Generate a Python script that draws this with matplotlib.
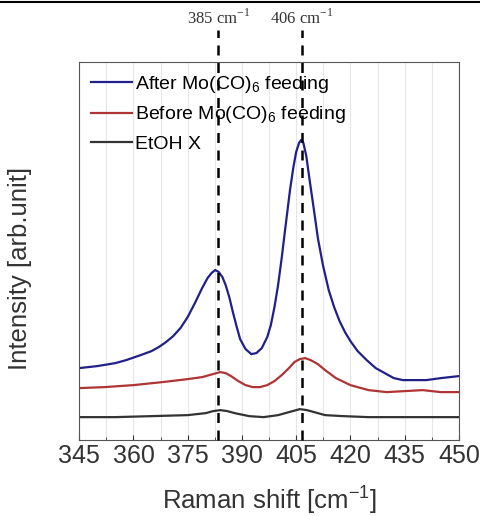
import numpy as np
import matplotlib
matplotlib.use("Agg")
import matplotlib.pyplot as plt
from matplotlib.ticker import MultipleLocator

# values (y in arbitrary units, baseline = axis bottom)
shift_after = [345, 350, 355, 358, 362, 365, 367, 369, 371, 373, 375, 377, 379, 380.5, 381.6,
               382.6, 383.6, 384.6, 385.5, 386.5, 387.5, 388.5, 389.5, 391, 392.6, 394, 395.5,
               397, 398, 399, 400, 401, 402, 403.3, 404.2, 405, 405.8, 406.4, 407, 407.8,
               408.8, 410, 411, 412.4, 414, 415.5, 417, 418.5, 420, 422, 424.5, 427, 430,
               432, 434.5, 438, 441, 445, 450]
after = [72, 74, 77, 80, 85, 89, 93, 98, 104, 112, 123, 137, 152, 162, 167,
         170, 168, 163, 155, 143, 128, 114, 101, 91, 86, 87, 92,
         103, 115, 133, 155, 182, 212, 250, 272, 288, 297, 300, 297, 284,
         258, 228, 202, 175, 150, 133, 119, 108, 99, 89, 80, 72, 66,
         62, 60, 60, 60, 62, 64]

shift_before = [345, 352, 360, 368, 375, 379, 382, 384, 385.5, 387, 389, 391, 393, 395,
                397, 399, 401, 403, 404.5, 406, 407.5, 409, 411, 413, 416, 420, 425, 430,
                435, 440, 445, 450]
before = [52, 53, 55, 58, 61, 63, 66, 68, 67, 64, 59, 55, 53, 53,
          55, 59, 65, 72, 78, 81, 82, 80, 76, 70, 62, 55, 50, 48,
          49, 50, 48, 48]

shift_etoh = [345, 355, 365, 375, 380, 382, 384, 386, 388, 392, 396, 400, 402, 404, 406,
              408, 410, 413, 418, 425, 432, 440, 450]
etoh = [23, 23, 24, 25, 27, 29, 30, 29, 27, 24, 23, 25, 27, 29, 31,
        30, 28, 25, 24, 23, 23, 23, 23]

peak_pos = [383.5, 406.5]
peak_labels = ["385 cm$^{\\mathregular{-1}}$", "406 cm$^{\\mathregular{-1}}$"]

plt.rcParams["mathtext.fontset"] = "custom"
plt.rcParams["mathtext.rm"] = "Liberation Sans"

fig = plt.figure(figsize=(4.8, 5.16), dpi=100)
ax = fig.add_axes([0.165, 0.147, 0.791, 0.733])

ax.plot(shift_after, after, color="#20208a", lw=1.6, label="After Mo(CO)$_\\mathregular{6}$ feeding")
ax.plot(shift_before, before, color="#b03434", lw=1.6, label="Before Mo(CO)$_\\mathregular{6}$ feeding")
ax.plot(shift_etoh, etoh, color="#333333", lw=1.6, label="EtOH X")

for p, lab in zip(peak_pos, peak_labels):
    ax.axvline(p, ymin=0, ymax=1.085, color="black", ls=(0, (4, 3)), lw=1.8, clip_on=False, zorder=5)
    ax.text(p, 422, lab, ha="center", va="center",
            fontsize=12, family="Liberation Serif", color="#333333", clip_on=False)

ax.set_xlim(345, 450)
ax.set_ylim(0, 378)
ax.xaxis.set_major_locator(MultipleLocator(15))
ax.xaxis.set_minor_locator(MultipleLocator(7.5))
ax.grid(True, which="both", axis="x", color="#e6e6e6", lw=0.8)
ax.set_yticks([])
ax.tick_params(axis="x", which="both", direction="in", labelsize=18, colors="#333333", pad=3)
ax.tick_params(axis="x", which="minor", length=2)
for lab in ax.get_xticklabels():
    lab.set_family("Liberation Sans")
for s in ax.spines.values():
    s.set_color("#555555")

ax.set_xlabel("Raman shift [cm$^{\\mathregular{-1}}$]", fontsize=18.5, family="Liberation Sans",
              color="#333333", labelpad=11)
ax.set_ylabel("Intensity [arb.unit]", fontsize=18.5, family="Liberation Sans", color="#333333")
ax.yaxis.set_label_coords(-0.124, 0.455)

leg = ax.legend(loc="upper left", frameon=False, prop={"family": "Liberation Sans", "size": 14},
                handlelength=2.1, handletextpad=0.15, labelspacing=0.5,
                borderaxespad=0.25, borderpad=0.35, bbox_to_anchor=(0.0, 1.0))

fig.add_artist(plt.Line2D([0, 1], [0.996, 0.996], color="black", lw=1.5))

fig.savefig("out.png", dpi=100)
